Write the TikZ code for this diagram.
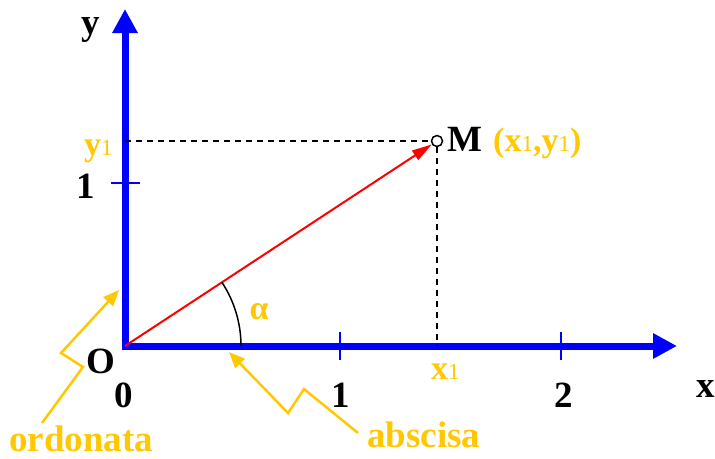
\documentclass[tikz,border=0pt]{standalone}
\usepackage{fontspec}
\setmainfont{Liberation Serif}
\usetikzlibrary{arrows.meta}
\definecolor{gold}{RGB}{255,200,0}
\definecolor{axisblue}{RGB}{0,0,255}
\definecolor{vecred}{RGB}{255,0,0}
\newcommand\subone{{\fontsize{23}{23}\selectfont\mdseries 1}}
\tikzset{
  axis/.style={draw=axisblue, line width=7pt, line join=miter,
    {Triangle[length=24pt,width=24pt]}-{Triangle[length=24pt,width=24pt]}},
  tick/.style={draw=axisblue, line width=2.5pt},
  guide/.style={draw=black, line width=1.5pt, dash pattern=on 6pt off 5pt},
  vec/.style={draw=vecred, line width=2pt, -{Triangle[length=20pt,width=11pt]}},
  pointer/.style={draw=gold, line width=2.5pt, line join=miter, -{Triangle[length=16pt,width=13pt]}},
  blk/.style={font=\fontsize{37}{40}\selectfont\bfseries, text=black, inner sep=0pt, anchor=base},
  ylw/.style={font=\fontsize{37}{40}\selectfont\bfseries, text=gold, inner sep=0pt, anchor=base},
  ylws/.style={font=\fontsize{34}{36}\selectfont\bfseries, text=gold, inner sep=0pt, anchor=base},
}
\begin{document}
\begin{tikzpicture}[x=1pt,y=-1pt]
\useasboundingbox (0,0) rectangle (715,458);
% key points
\coordinate (O) at (125,346);
\coordinate (ytip) at (125,9);
\coordinate (xtip) at (677,346);
\node[circle, draw=black, fill=white, line width=1.5pt, minimum size=11pt, inner sep=0pt] (M) at (437,141) {};
\coordinate (y1pt) at (125,141);
\coordinate (x1pt) at (437,346);
% axes
\draw[axis] (ytip) -- (O) -- (xtip);
% ticks
\coordinate (ty1a) at (111,183); \coordinate (ty1b) at (140,183);
\coordinate (tx1a) at (340,332); \coordinate (tx1b) at (340,360);
\coordinate (tx2a) at (561,332); \coordinate (tx2b) at (561,360);
\draw[tick] (ty1a) -- (ty1b);
\draw[tick] (tx1a) -- (tx1b);
\draw[tick] (tx2a) -- (tx2b);
% guides
\draw[guide] (y1pt) -- (M.west);
\draw[guide] (M.south) -- (x1pt);
% vector
\draw[vec] (O) -- (M);
% angle arc
\coordinate (arcstart) at (241,346);
\draw[black, line width=1.5pt] (arcstart) arc[start angle=0, end angle=33.3, radius=116pt];
% labels
\node[blk] (ylab) at (91,34) {y};
\node[blk] (xlab) at (706,397) {x};
\node[blk] (one_y) at (86,198) {1};
\node[blk] (Olab) at (101,373) {O};
\node[blk] (zero) at (124,407) {0};
\node[blk] (one_x) at (341,407) {1};
\node[blk] (two_x) at (564,407) {2};
\node[blk, anchor=base west] (Mlab) at (447,151) {M};
\node[ylws, anchor=base west] (coords) at (493,151) {(x\subone,y\subone)};
\node[ylws, anchor=base west] (y1lab) at (84,155) {y\subone};
\node[ylws, anchor=base west] (x1lab) at (431,379) {x\subone};
\node[text=gold, inner sep=0pt, anchor=base, font=\fontsize{34}{36}\selectfont\bfseries] (alpha) at (259,319) {α};
\node[ylw, anchor=base west] (ord) at (9,451) {ordonata};
\node[ylw, anchor=base west] (absc) at (367,447) {abscisa};
% pointers
\coordinate (o1) at (42,423); \coordinate (o2) at (83,367); \coordinate (o3) at (61,353); \coordinate (o4) at (119,290);
\draw[pointer] (o1) -- (o2) -- (o3) -- (o4);
\coordinate (a1) at (358,433); \coordinate (a2) at (304,389); \coordinate (a3) at (288,413); \coordinate (a4) at (229,352);
\draw[pointer] (a1) -- (a2) -- (a3) -- (a4);
\end{tikzpicture}
\end{document}
